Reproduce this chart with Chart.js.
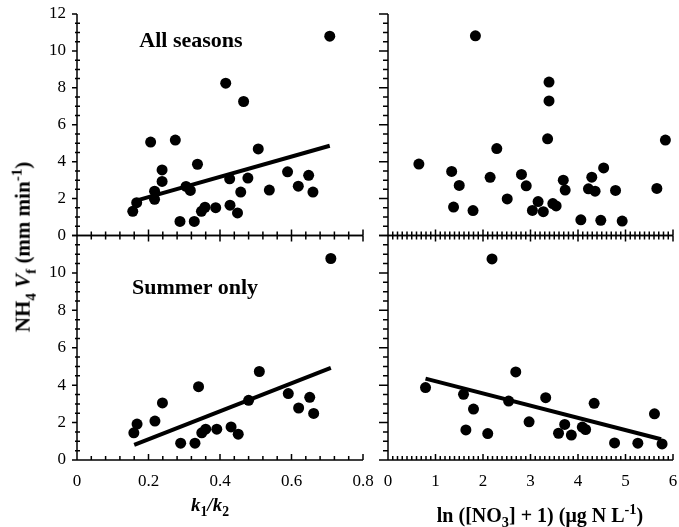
<!DOCTYPE html>
<html>
<head>
<meta charset="utf-8">
<script src="https://cdn.jsdelivr.net/npm/chart.js@4.4.1/dist/chart.umd.min.js"></script>
<style>
    body { margin: 0; background: #fff; width: 679px; height: 527px; position: relative; overflow: hidden; }
    canvas { position: absolute; left: 0; top: 0; }
    .lbl { position: absolute; font-family: 'Liberation Serif', 'Times New Roman', serif; font-weight: bold; color: #000; white-space: nowrap; line-height: 1; }
    .lbl sub { font-size: 0.72em; vertical-align: -0.35em; }
    .lbl sup { font-size: 0.72em; vertical-align: 0.55em; }
</style>
</head>
<body>
<canvas id="allK" width="679" height="527"></canvas>
<canvas id="allNo3" width="679" height="527"></canvas>
<canvas id="sumK" width="679" height="527"></canvas>
<canvas id="sumNo3" width="679" height="527"></canvas>

<div class="lbl" style="left:191px; top:29px; font-size:22px; transform:translateX(-50%);">All seasons</div>
<div class="lbl" style="left:195px; top:276px; font-size:22px; transform:translateX(-50%);">Summer only</div>
<div class="lbl" style="left:24px; top:247px; font-size:21px; transform:translate(-50%,-50%) rotate(-90deg);">NH<sub>4</sub> <i>V</i><sub>f</sub> (mm min<sup>-1</sup>)</div>
<div class="lbl" style="left:210px; top:495px; font-size:19px; transform:translateX(-50%);"><i>k</i><sub>1</sub><i>/k</i><sub>2</sub></div>
<div class="lbl" style="left:540px; top:502px; font-size:20px; transform:translateX(-50%);">ln ([NO<sub>3</sub>] + 1) (μg N L<sup>-1</sup>)</div>

<script>
// tick labels
const vfTicks = [0, 2, 4, 6, 8, 10, 12];
const kTicks = [0, 0.2, 0.4, 0.6, 0.8];
const no3Ticks = [0, 1, 2, 3, 4, 5, 6];

// All seasons, Vf vs k1/k2
const allK = [0.707, 0.416, 0.466, 0.206, 0.275, 0.507, 0.337, 0.238, 0.238, 0.217,
              0.217, 0.167, 0.156, 0.305, 0.317, 0.288, 0.328, 0.348, 0.358, 0.388,
              0.427, 0.428, 0.449, 0.458, 0.478, 0.538, 0.589, 0.619, 0.648, 0.660];
const allKVf = [10.8, 8.25, 7.26, 5.06, 5.17, 4.69, 3.86, 3.55, 2.93, 2.40,
                1.96, 1.78, 1.31, 2.66, 2.44, 0.76, 0.76, 1.31, 1.53, 1.51,
                3.07, 1.64, 1.22, 2.35, 3.11, 2.46, 3.45, 2.67, 3.26, 2.35];
const allKFitX = [0.158, 0.707];
const allKFitY = [1.85, 4.86];

// All seasons, Vf vs ln(NO3 + 1)
const allNo3 = [1.84, 3.39, 3.39, 3.36, 5.84, 0.65, 2.29, 1.34, 1.50, 1.38,
                1.79, 2.15, 2.51, 2.81, 2.91, 3.04, 3.16, 3.27, 3.47, 3.54,
                3.69, 3.73, 4.06, 4.22, 4.29, 4.36, 4.54, 4.48, 4.79, 4.93, 5.66];
const allNo3Vf = [10.82, 8.31, 7.29, 5.24, 5.17, 3.87, 4.71, 3.47, 2.71, 1.54,
                  1.35, 3.15, 1.98, 3.31, 2.69, 1.36, 1.84, 1.29, 1.73, 1.60,
                  3.00, 2.46, 0.85, 2.53, 3.16, 2.40, 3.66, 0.82, 2.44, 0.78, 2.55];

// Summer only, Vf vs k1/k2
const sumK = [0.710, 0.510, 0.340, 0.239, 0.218, 0.168, 0.159, 0.290, 0.330, 0.349,
              0.360, 0.391, 0.431, 0.451, 0.480, 0.591, 0.620, 0.651, 0.662];
const sumKVf = [10.77, 4.73, 3.92, 3.05, 2.08, 1.92, 1.45, 0.90, 0.90, 1.45,
                1.65, 1.65, 1.77, 1.38, 3.19, 3.55, 2.78, 3.35, 2.49];
const sumKFitX = [0.160, 0.710];
const sumKFitY = [0.81, 4.93];

// Summer only, Vf vs ln(NO3 + 1)
const sumNo3 = [2.19, 0.79, 2.69, 1.59, 1.80, 1.64, 2.10, 2.54, 2.97, 3.32,
                3.59, 3.72, 3.86, 4.09, 4.16, 4.34, 4.77, 5.26, 5.61, 5.77];
const sumNo3Vf = [10.75, 3.87, 4.71, 3.51, 2.72, 1.61, 1.41, 3.15, 2.04, 3.33,
                  1.43, 1.90, 1.33, 1.76, 1.63, 3.03, 0.91, 0.90, 2.47, 0.86];
const sumNo3FitX = [0.79, 5.75];
const sumNo3FitY = [4.35, 1.11];

const FONT = { family: "'Liberation Serif', 'Times New Roman', serif", size: 17 };

// axis lines plus major/minor tick marks, drawn through the chart's own scales
const frame = {
    id: 'frame',
    afterDraw(chart, args, opts) {
        const { ctx, chartArea: a, scales: { x, y } } = chart;
        const seg = (x1, y1, x2, y2) => { ctx.moveTo(x1, y1); ctx.lineTo(x2, y2); };
        ctx.save();
        ctx.strokeStyle = '#000';
        ctx.lineWidth = 1.5;
        ctx.beginPath();
        seg(a.left, a.top, a.left, a.bottom);
        seg(a.left, a.bottom, a.right, a.bottom);
        if (opts.top) seg(a.left, a.top, a.right, a.top);

        const nx = Math.round((x.max - x.min) / opts.xMinor);
        for (let i = 0; i <= nx; i++) {
            const px = x.getPixelForValue(x.min + i * opts.xMinor);
            const len = i % opts.xEvery === 0 ? 6 : 4;
            seg(px, a.bottom, px, a.bottom - len);
            if (opts.top) seg(px, a.top, px, a.top + len);
        }
        const ny = Math.round((y.max - y.min) / 0.5);
        for (let i = 0; i <= ny; i++) {
            const py = y.getPixelForValue(y.min + i * 0.5);
            if (i % 4 === 0) seg(a.left - opts.yOut, py, a.left, py);
            else seg(a.left - opts.yMinorOut, py, a.left + opts.yMinorIn, py);
        }
        ctx.stroke();
        ctx.restore();
    }
};

// invisible tick marks only used to push the labels away from the axis
const spacer = { display: true, drawOnChartArea: false, drawTicks: true, tickLength: 11, color: 'rgba(0,0,0,0)' };

function panel(id, cfg) {
    const datasets = [{
        data: cfg.xs.map((v, i) => ({ x: v, y: cfg.ys[i] })),
        pointRadius: 5.5,
        pointHoverRadius: 5.5,
        backgroundColor: '#000',
        borderColor: '#000',
        borderWidth: 0
    }];
    if (cfg.fitX) {
        datasets.push({
            type: 'line',
            data: cfg.fitX.map((v, i) => ({ x: v, y: cfg.fitY[i] })),
            borderColor: '#000',
            borderWidth: 4,
            pointRadius: 0,
            fill: false
        });
    }
    const xt = cfg.xTicks;
    return new Chart(document.getElementById(id), {
        type: 'scatter',
        data: { datasets },
        options: {
            responsive: false,
            animation: false,
            events: [],
            layout: { padding: cfg.pad },
            plugins: {
                legend: { display: false },
                tooltip: { enabled: false },
                frame: cfg.frame
            },
            scales: {
                x: {
                    type: 'linear',
                    min: xt[0],
                    max: xt[xt.length - 1],
                    afterBuildTicks: s => { s.ticks = xt.map(v => ({ value: v })); },
                    afterFit: s => { s.height = cfg.xLabels ? 40 : 0; },
                    grid: spacer,
                    border: { display: false },
                    ticks: { display: cfg.xLabels, font: FONT, color: '#000', padding: 0, maxRotation: 0 }
                },
                y: {
                    type: 'linear',
                    min: vfTicks[0],
                    max: vfTicks[vfTicks.length - 1],
                    afterBuildTicks: s => { s.ticks = cfg.yTicks.map(v => ({ value: v })); },
                    afterFit: s => { s.width = cfg.yLabels ? 40 : 0; },
                    grid: spacer,
                    border: { display: false },
                    ticks: { display: cfg.yLabels, font: FONT, color: '#000', padding: 0 }
                }
            }
        },
        plugins: [frame]
    });
}

const leftFrame = { xMinor: 0.04, xEvery: 5, yOut: 5, yMinorOut: 2, yMinorIn: 3 };
const rightFrame = { xMinor: 0.1, xEvery: 10, yOut: 9, yMinorOut: 5, yMinorIn: 0 };

panel('allK', {
    xs: allK, ys: allKVf, fitX: allKFitX, fitY: allKFitY,
    xTicks: kTicks, yTicks: vfTicks, xLabels: false, yLabels: true,
    pad: { left: 37, right: 316, top: 14, bottom: 291.5 },
    frame: Object.assign({ top: false }, leftFrame)
});
panel('allNo3', {
    xs: allNo3, ys: allNo3Vf,
    xTicks: no3Ticks, yTicks: vfTicks, xLabels: false, yLabels: false,
    pad: { left: 388, right: 6, top: 14, bottom: 291.5 },
    frame: Object.assign({ top: false }, rightFrame)
});
panel('sumK', {
    xs: sumK, ys: sumKVf, fitX: sumKFitX, fitY: sumKFitY,
    xTicks: kTicks, yTicks: vfTicks.slice(0, -1), xLabels: true, yLabels: true,
    pad: { left: 37, right: 316, top: 235.5, bottom: 27 },
    frame: Object.assign({ top: true }, leftFrame)
});
panel('sumNo3', {
    xs: sumNo3, ys: sumNo3Vf, fitX: sumNo3FitX, fitY: sumNo3FitY,
    xTicks: no3Ticks, yTicks: vfTicks.slice(0, -1), xLabels: true, yLabels: false,
    pad: { left: 388, right: 6, top: 235.5, bottom: 27 },
    frame: Object.assign({ top: true }, rightFrame)
});
</script>
</body>
</html>
